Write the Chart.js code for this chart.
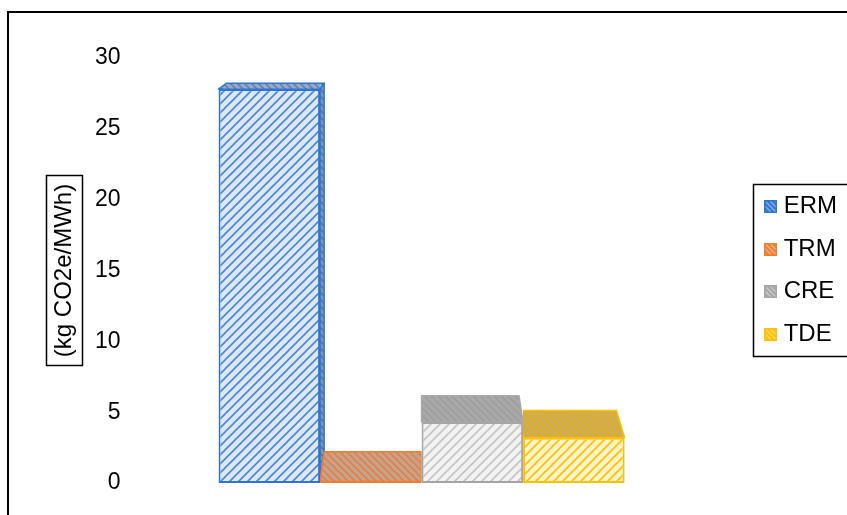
<!DOCTYPE html>
<html lang="en">
<head>
<meta charset="UTF-8">
<title>Emission factors</title>
<script src="https://cdn.jsdelivr.net/npm/chart.js"></script>
<style>
  body { margin: 0; background: #fff; }
  .chart-box { position: relative; width: 847px; height: 515px; }
</style>
</head>
<body>
<div class="chart-box"><canvas id="chart"></canvas></div>
<script>
// data
const categories = [''];
const seriesNames = ['ERM', 'TRM', 'CRE', 'TDE'];
const seriesValues = [27.8, 0.1, 4.3, 3.2];
const yTicks = [0, 5, 10, 15, 20, 25, 30];
const yTitle = '(kg CO2e/MWh)';

// look of each series: edge, front [bg, hatch], top [bg, hatch], side [bg, hatch]
const edgeColors = ['#2e75d3', '#ed7d31', '#a5a5a5', '#ffc000'];
const frontColors = [['#dde8f7', '#4a86d8'], ['#fbe0cf', '#ed7d31'], ['#f2f2f2', '#c4c4c4'], ['#fff3c9', '#ffc000']];
const topColors = [['#9ea9ba', '#4a7fcf'], ['#c9a28c', '#e57c3e'], ['#a9a9a9', '#9b9b9b'], ['#cdad58', '#e4ad14']];
const sideColors = [['#8894a8', '#3f72c0'], ['#b88f78', '#d56d30'], ['#999999', '#8c8c8c'], ['#bb9b48', '#d29e10']];

const FONT = '"Liberation Sans", Arial, sans-serif';
const SKEW = 0.04;      // sideways pull towards the vanishing point
const DEPTH = 0.061;    // upward pull towards the eye line
const EYE_ABOVE = 67;   // eye line above the plot top, px

function hatchTile(bg, line, dir, size, lw) {
    const c = document.createElement('canvas');
    c.width = c.height = size;
    const g = c.getContext('2d');
    g.fillStyle = bg;
    g.fillRect(0, 0, size, size);
    g.strokeStyle = line;
    g.lineWidth = lw;
    g.beginPath();
    if (dir === '/') {
        g.moveTo(0, size); g.lineTo(size, 0);
        g.moveTo(-size / 2, size / 2); g.lineTo(size / 2, -size / 2);
        g.moveTo(size / 2, size * 1.5); g.lineTo(size * 1.5, size / 2);
    } else {
        g.moveTo(0, 0); g.lineTo(size, size);
        g.moveTo(-size / 2, size / 2); g.lineTo(size / 2, size * 1.5);
        g.moveTo(size / 2, -size / 2); g.lineTo(size * 1.5, size / 2);
    }
    g.stroke();
    return c;
}
function hatch(bg, line, dir, size, lw) {
    const c = hatchTile(bg, line, dir, size, lw);
    return c.getContext('2d').createPattern(c, 'repeat');
}

const frontFill = frontColors.map(c => hatch(c[0], c[1], '/', 9, 1.6));
const topFill = topColors.map(c => hatch(c[0], c[1], '\\', 7, 1.4));
const sideFill = sideColors.map(c => hatch(c[0], c[1], '\\', 7, 1.4));

// small legend squares
const legendSwatch = edgeColors.map(col => {
    const c = document.createElement('canvas');
    c.width = 13; c.height = 13;
    const g = c.getContext('2d');
    g.fillStyle = g.createPattern(hatchTile(col, 'rgba(255,255,255,0.6)', '\\', 5, 1.1), 'repeat');
    g.fillRect(0, 0, 13, 13);
    g.strokeStyle = col;
    g.lineWidth = 1.5;
    g.strokeRect(0.75, 0.75, 11.5, 11.5);
    return c;
});

// outer frame of the chart (cut by the page edge at right and bottom)
const framePlugin = {
    id: 'frame',
    beforeDraw(chart) {
        const ctx = chart.ctx;
        ctx.save();
        ctx.fillStyle = '#fff';
        ctx.fillRect(0, 0, chart.width, chart.height);
        ctx.strokeStyle = '#000';
        ctx.lineWidth = 2;
        ctx.strokeRect(8, 12, chart.width + 20, chart.height + 20);
        ctx.restore();
    },
    afterDraw(chart) {
        const ctx = chart.ctx;
        ctx.save();
        ctx.strokeStyle = '#000';
        ctx.lineWidth = 1.5;
        // box round the axis title
        const sc = chart.scales.y;
        const t = sc.options.title;
        const lh = t.font.size * 1.2;
        const cx = sc.left + t.padding.top + lh / 2;
        const cy = (sc.top + sc.bottom) / 2;
        ctx.font = t.font.size + 'px ' + FONT;
        const w = ctx.measureText(yTitle).width;
        ctx.strokeRect(Math.round(cx - 18) + 0.5, Math.round(cy - w / 2 - 9) + 0.5, 36, Math.round(w + 17));
        // box round the legend
        const hb = chart.legend.legendHitBoxes;
        const l = Math.min(...hb.map(h => h.left)) - 17;
        const tp = Math.min(...hb.map(h => h.top)) - 11;
        const r = Math.max(...hb.map(h => h.left + h.width)) + 11;
        const b = Math.max(...hb.map(h => h.top + h.height)) + 9;
        ctx.strokeRect(Math.round(l) + 0.5, Math.round(tp) + 0.5, Math.round(r - l), Math.round(b - tp));
        ctx.restore();
    }
};

// top and side faces of the 3-D columns, from the bars the library laid out
const boxPlugin = {
    id: 'box3d',
    afterDatasetsDraw(chart) {
        const ctx = chart.ctx;
        const area = chart.chartArea;
        const rects = chart.data.datasets.map((d, i) => {
            const b = chart.getDatasetMeta(i).data[0];
            return { l: b.x - b.width / 2, r: b.x + b.width / 2, t: Math.min(b.y, b.base), b: Math.max(b.y, b.base) };
        });
        const vx = (rects[0].l + rects[rects.length - 1].r) / 2;
        const vy = area.top - EYE_ABOVE;
        const back = (x, y) => [x + (vx - x) * SKEW, y - (y - vy) * DEPTH];
        const poly = (pts, fill, stroke) => {
            ctx.beginPath();
            pts.forEach((p, k) => k ? ctx.lineTo(p[0], p[1]) : ctx.moveTo(p[0], p[1]));
            ctx.closePath();
            ctx.fillStyle = fill;
            ctx.fill();
            ctx.strokeStyle = stroke;
            ctx.stroke();
        };
        rects.forEach((q, i) => {
            const prev = rects[i - 1], next = rects[i + 1];
            ctx.save();
            ctx.lineWidth = 1.5;
            ctx.lineJoin = 'round';
            // right side face
            if (back(q.r, q.t)[0] > q.r + 0.5) {
                const lim = next ? Math.min(q.b, next.t) : q.b;
                if (lim > q.t) poly([[q.r, q.t], [q.r, lim], back(q.r, lim), back(q.r, q.t)], sideFill[i], edgeColors[i]);
            }
            // left side face
            if (back(q.l, q.t)[0] < q.l - 0.5) {
                const lim = prev ? Math.min(q.b, prev.t) : q.b;
                if (lim > q.t) poly([[q.l, q.t], [q.l, lim], back(q.l, lim), back(q.l, q.t)], sideFill[i], edgeColors[i]);
            }
            // top face, hidden behind a taller neighbour
            const cl = prev && prev.t < q.t ? q.l : 0;
            const cr = next && next.t < q.t ? q.r : chart.width;
            ctx.beginPath();
            ctx.rect(cl, 0, cr - cl, chart.height);
            ctx.clip();
            poly([[q.l, q.t], [q.r, q.t], back(q.r, q.t), back(q.l, q.t)], topFill[i], i === 2 ? '#a9a9a9' : edgeColors[i]);
            ctx.restore();
        });
    }
};

Chart.defaults.font.family = FONT;
Chart.defaults.color = '#000';

const defaultLabels = Chart.defaults.plugins.legend.labels.generateLabels;

new Chart(document.getElementById('chart'), {
    type: 'bar',
    data: {
        labels: categories,
        datasets: seriesNames.map((name, i) => ({
            label: name,
            data: [seriesValues[i]],
            backgroundColor: frontFill[i],
            borderColor: edgeColors[i],
            borderWidth: 2,
            borderSkipped: false,
            categoryPercentage: 0.616,
            barPercentage: 1
        }))
    },
    options: {
        responsive: true,
        maintainAspectRatio: false,
        animation: false,
        layout: { padding: { top: 58, bottom: 32, left: 0, right: 0 } },
        scales: {
            x: { display: false },
            y: {
                min: 0,
                max: 30,
                grid: { display: false, drawTicks: false },
                border: { display: false },
                afterFit: s => { s.width = 92; },
                ticks: {
                    stepSize: 5,
                    mirror: true,
                    crossAlign: 'far',
                    padding: 3,
                    color: '#000',
                    font: { size: 23 },
                    callback: v => yTicks.includes(v) ? String(v) : ''
                },
                title: {
                    display: true,
                    text: yTitle,
                    color: '#000',
                    font: { size: 24 },
                    padding: { top: 50, bottom: 0 }
                }
            }
        },
        plugins: {
            legend: {
                position: 'right',
                labels: {
                    usePointStyle: true,
                    boxWidth: 2,
                    boxHeight: 13,
                    padding: 18.5,
                    color: '#000',
                    font: { size: 24 },
                    generateLabels: chart => defaultLabels(chart).map((it, i) => Object.assign(it, { pointStyle: legendSwatch[i] }))
                }
            },
            tooltip: { enabled: false }
        }
    },
    plugins: [framePlugin, boxPlugin]
});
</script>
</body>
</html>
